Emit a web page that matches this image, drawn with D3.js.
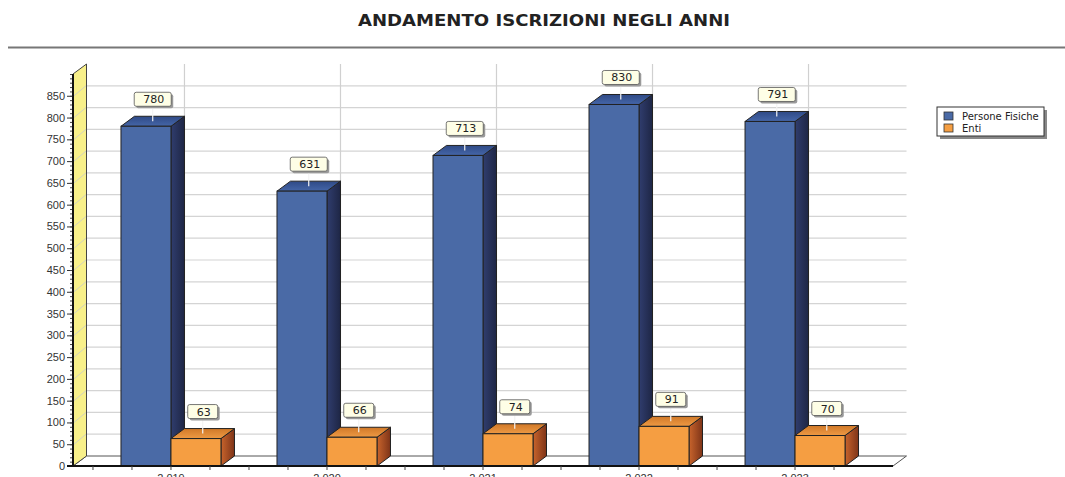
<!DOCTYPE html>
<html>
<head>
<meta charset="utf-8">
<script src="https://cdn.jsdelivr.net/npm/d3@7"></script>
<style>
  body { margin: 0; background: #fff; }
  svg { display: block; font-family: "DejaVu Sans", Verdana, sans-serif; }
</style>
</head>
<body>
<svg width="1065" height="477"></svg>
<script>
// Chart data
const years = ["2.019", "2.020", "2.021", "2.022", "2.023"];
const persone = [780, 631, 713, 830, 791];
const enti = [63, 66, 74, 91, 70];
const seriesNames = ["Persone Fisiche", "Enti"];
const yTicks = d3.range(0, 851, 50);

const svg = d3.select("svg"),
    width = +svg.attr("width"),
    height = +svg.attr("height");

// depth of the 3d effect
const dx = 13.5, dy = -10;

const x = d3.scaleBand()
    .domain(years)
    .range([73, 893])
    .paddingInner(0)
    .paddingOuter(0.128);

const y = d3.scaleLinear()
    .domain([0, 900])
    .range([466, 74]);

const defs = svg.append("defs");

function grad(id, stops, vertical) {
  const g = defs.append("linearGradient").attr("id", id)
      .attr("x1", 0).attr("y1", 0)
      .attr("x2", vertical ? 0 : 1).attr("y2", vertical ? 1 : 0);
  stops.forEach(function(s, i) {
    g.append("stop").attr("offset", i / (stops.length - 1)).attr("stop-color", s);
  });
}
grad("blueSide", ["#303d6e", "#1e2645"]);
grad("blueTop", ["#2f4a86", "#4566a8"], true);
grad("orangeSide", ["#c8642c", "#7e3418"]);
grad("orangeTop", ["#d07828", "#ee9a44"], true);

// title
svg.append("text")
    .attr("x", 544).attr("y", 26)
    .attr("text-anchor", "middle")
    .style("font-size", "15px")
    .style("font-weight", "bold")
    .style("fill", "#222")
    .attr("textLength", 372)
    .attr("lengthAdjust", "spacingAndGlyphs")
    .text("ANDAMENTO ISCRIZIONI NEGLI ANNI");

svg.append("line")
    .attr("x1", 8).attr("x2", width)
    .attr("y1", 47.5).attr("y2", 47.5)
    .style("stroke", "#777").style("stroke-width", 2);

const x0 = x.range()[0], x1 = x.range()[1];
const yTop = y(900);

// floor
svg.append("path")
    .attr("d", "M" + x0 + "," + y(0) + "L" + (x0 + dx) + "," + (y(0) + dy) +
      "L" + (x1 + dx) + "," + (y(0) + dy) + "L" + x1 + "," + y(0) + "Z")
    .style("fill", "#fff").style("stroke", "#555").style("stroke-width", 1);

// back wall gridlines
svg.append("g").selectAll("line")
    .data(yTicks.filter(function(d) { return d > 0; }))
    .enter().append("line")
    .attr("x1", x0 + dx).attr("x2", x1 + dx)
    .attr("y1", function(d) { return y(d) + dy; })
    .attr("y2", function(d) { return y(d) + dy; })
    .style("stroke", "#d4d4d4").style("stroke-width", 1.2);

// vertical gridlines at category centers
svg.append("g").selectAll("line")
    .data(years)
    .enter().append("line")
    .attr("x1", function(d) { return x(d) + x.bandwidth() / 2 + dx; })
    .attr("x2", function(d) { return x(d) + x.bandwidth() / 2 + dx; })
    .attr("y1", yTop + dy).attr("y2", y(0) + dy)
    .style("stroke", "#d0d0d0").style("stroke-width", 1.2);

// left wall
svg.append("path")
    .attr("d", "M" + x0 + "," + y(0) + "L" + x0 + "," + yTop +
      "L" + (x0 + dx) + "," + (yTop + dy) + "L" + (x0 + dx) + "," + (y(0) + dy) + "Z")
    .style("fill", "#f8f08a").style("stroke", "#444").style("stroke-width", 1);

svg.append("g").selectAll("line")
    .data(yTicks.filter(function(d) { return d > 0; }))
    .enter().append("line")
    .attr("x1", x0 + 1).attr("x2", x0 + dx - 0.5)
    .attr("y1", function(d) { return y(d); })
    .attr("y2", function(d) { return y(d) + dy; })
    .style("stroke", "#d2d2c0").style("stroke-width", 1);

// bars
const bars = [];
years.forEach(function(yr, i) {
  const c = x(yr) + x.bandwidth() / 2;
  bars.push({year: yr, v: persone[i], x: c - 50, w: 50, s: 0});
  bars.push({year: yr, v: enti[i], x: c, w: 50, s: 1});
});

const fronts = ["#4a6aa6", "#f59e42"];
const sides = ["url(#blueSide)", "url(#orangeSide)"];
const tops = ["url(#blueTop)", "url(#orangeTop)"];

const bar = svg.append("g").selectAll("g")
    .data(bars)
    .enter().append("g");

bar.append("path")
    .attr("d", function(d) {
      const xr = d.x + d.w, yt = y(d.v), yb = y(0);
      return "M" + xr + "," + yb + "L" + xr + "," + yt + "L" + (xr + dx) + "," + (yt + dy) +
        "L" + (xr + dx) + "," + (yb + dy) + "Z";
    })
    .style("fill", function(d) { return sides[d.s]; })
    .style("stroke", "#222").style("stroke-width", 1);

bar.append("path")
    .attr("d", function(d) {
      const yt = y(d.v);
      return "M" + d.x + "," + yt + "L" + (d.x + dx) + "," + (yt + dy) +
        "L" + (d.x + d.w + dx) + "," + (yt + dy) + "L" + (d.x + d.w) + "," + yt + "Z";
    })
    .style("fill", function(d) { return tops[d.s]; })
    .style("stroke", "#222").style("stroke-width", 1);

bar.append("rect")
    .attr("x", function(d) { return d.x; })
    .attr("y", function(d) { return y(d.v); })
    .attr("width", function(d) { return d.w; })
    .attr("height", function(d) { return y(0) - y(d.v); })
    .style("fill", function(d) { return fronts[d.s]; })
    .style("stroke", "#222").style("stroke-width", 1);

// value labels
bar.append("line")
    .attr("x1", function(d) { return d.x + d.w / 2 + dx / 2; })
    .attr("x2", function(d) { return d.x + d.w / 2 + dx / 2; })
    .attr("y1", function(d) { return y(d.v) - 20; })
    .attr("y2", function(d) { return y(d.v) - 5; })
    .style("stroke", "#f4f4f4").style("stroke-width", 1.2);

bar.each(function(d) {
  const g = d3.select(this);
  const bw = String(d.v).length * 7 + 16;
  const cx = d.x + d.w / 2 + dx / 2;
  const by = y(d.v) - 34;
  g.append("rect")
      .attr("x", cx - bw / 2 + 2).attr("y", by + 2)
      .attr("width", bw).attr("height", 14).attr("rx", 2)
      .style("fill", "#9a9a9a");
  g.append("rect")
      .attr("x", cx - bw / 2).attr("y", by)
      .attr("width", bw).attr("height", 14).attr("rx", 2)
      .style("fill", "#fefee6").style("stroke", "#555").style("stroke-width", 0.8);
  g.append("text")
      .attr("x", cx + 1).attr("y", by + 11)
      .attr("text-anchor", "middle")
      .style("font-size", "11px").style("fill", "#222")
      .text(d.v);
});

// y axis
const yAxis = svg.append("g")
    .attr("transform", "translate(" + x0 + ",0)")
    .call(d3.axisLeft(y).tickValues(yTicks).tickSize(6).tickSizeOuter(0).tickPadding(2));
yAxis.select(".domain").remove();
yAxis.selectAll("text").style("font-size", "11px").style("fill", "#333");
yAxis.selectAll("line").style("stroke", "#333");

svg.append("g")
    .attr("transform", "translate(" + x0 + ",0)")
    .call(d3.axisLeft(y).tickValues(d3.range(0, 901, 10)).tickSize(3).tickFormat(""))
    .call(function(g) { g.select(".domain").remove(); })
    .selectAll("line").style("stroke", "#444");

svg.append("line")
    .attr("x1", x0).attr("x2", x0)
    .attr("y1", yTop).attr("y2", y(0) + 1)
    .style("stroke", "#111").style("stroke-width", 2);

// x axis
svg.append("line")
    .attr("x1", x0 - 6).attr("x2", x1)
    .attr("y1", y(0)).attr("y2", y(0))
    .style("stroke", "#111").style("stroke-width", 2);

const minorX = [];
years.forEach(function(yr) {
  const c = x(yr) + x.bandwidth() / 2;
  [-2, -1, 0, 1].forEach(function(k) { minorX.push(c + k * 39); });
});
svg.append("g").selectAll("line")
    .data(minorX.filter(function(v) { return v > x0 + 5; }))
    .enter().append("line")
    .attr("x1", function(d) { return d; }).attr("x2", function(d) { return d; })
    .attr("y1", y(0)).attr("y2", y(0) + 4)
    .style("stroke", "#444");

const xAxis = svg.append("g")
    .attr("transform", "translate(0," + y(0) + ")")
    .call(d3.axisBottom(x).tickSize(0).tickPadding(8));
xAxis.select(".domain").remove();
xAxis.selectAll("text").style("font-size", "11px").style("fill", "#333");

// legend
const legend = svg.append("g").attr("transform", "translate(937,107)");
legend.append("rect").attr("x", 3).attr("y", 3).attr("width", 107).attr("height", 29).style("fill", "#888");
legend.append("rect").attr("width", 107).attr("height", 29).style("fill", "#fff").style("stroke", "#333");
seriesNames.forEach(function(n, i) {
  legend.append("rect")
      .attr("x", 7).attr("y", 5 + i * 12).attr("width", 9).attr("height", 8)
      .style("fill", fronts[i]).style("stroke", "#333").style("stroke-width", 0.8);
  legend.append("text")
      .attr("x", 25).attr("y", 12.5 + i * 12)
      .style("font-size", "10px").style("fill", "#222")
      .text(n);
});
</script>
</body>
</html>
